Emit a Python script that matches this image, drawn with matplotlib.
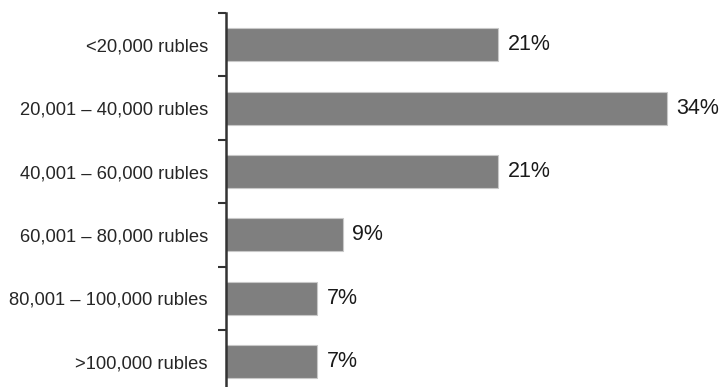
import matplotlib.pyplot as plt

# income brackets and share of respondents (%)
brackets = ["<20,000 rubles", "20,001 \u2013 40,000 rubles", "40,001 \u2013 60,000 rubles",
            "60,001 \u2013 80,000 rubles", "80,001 \u2013 100,000 rubles", ">100,000 rubles"]
shares = [21, 34, 21, 9, 7, 7]

plt.rcParams['font.family'] = ['Liberation Sans', 'DejaVu Sans']

fig = plt.figure(figsize=(7.22, 3.87), dpi=100)
ax = fig.add_axes([0.313, -0.016, 0.682, 0.982])

ys = list(range(len(brackets)))
ax.barh(ys, shares, height=0.52, color="#7f7f7f", edgecolor="#c8c8c8", linewidth=0.8)

for y, v in zip(ys, shares):
    ax.text(v + 0.75, y, f"{v}%", va="center", ha="left", fontsize=15.5, color="#1a1a1a")

ax.set_ylim(len(brackets) - 0.5, -0.5)
ax.set_xlim(0, 38)

# category labels on major ticks, separator ticks between categories
ax.set_yticks(ys)
ax.set_yticklabels(brackets, fontsize=13.2, color="#262626")
ax.set_yticks([i - 0.5 for i in range(len(brackets) + 1)], minor=True)
ax.tick_params(axis="y", which="major", length=0, pad=13)
ax.tick_params(axis="y", which="minor", length=6, width=1.5, color="#333333")

ax.set_xticks([])
for s in ["top", "right", "bottom"]:
    ax.spines[s].set_visible(False)
ax.spines["left"].set_linewidth(1.8)
ax.spines["left"].set_color("#333333")

fig.savefig("out.png", dpi=100)
